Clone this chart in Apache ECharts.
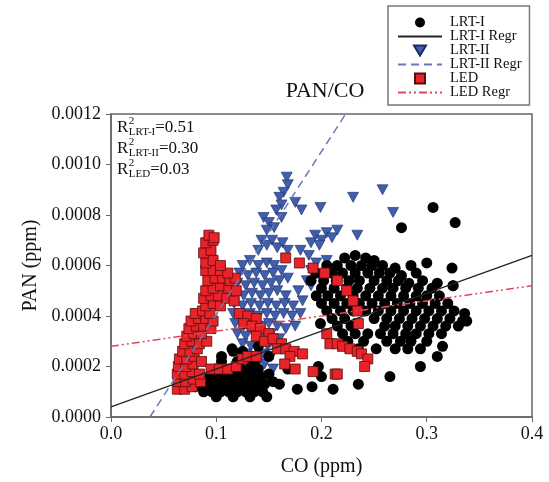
<!DOCTYPE html>
<html style="height: 100%">
<head>
<meta charset="utf-8">
<script src="https://cdn.jsdelivr.net/npm/echarts@6/dist/echarts.min.js"></script>
</head>
<body style="height: 100%; margin: 0; background: #fff">
<div id="container" style="width: 549px; height: 482px"></div>
<script type="text/javascript">
// ------ data (CO ppm, PAN ppm) ------
var seriesNames = ['LRT-I', 'LRT-I Regr', 'LRT-II', 'LRT-II Regr', 'LED', 'LED Regr'];
var xTicks = [0.0, 0.1, 0.2, 0.3, 0.4];
var yTicks = [0.0000, 0.0002, 0.0004, 0.0006, 0.0008, 0.0010, 0.0012];

var lrt1Points = [
  [0.088,0.0001],[0.096,0.0001],[0.104,0.0001],[0.112,0.0001],[0.12,0.0001],[0.128,0.0001],[0.136,0.0001],[0.144,0.0001],
  [0.09,0.00013],[0.098,0.00013],[0.106,0.00013],[0.114,0.00013],[0.122,0.00013],[0.13,0.00013],[0.138,0.00013],[0.146,0.00013],[0.154,0.00014],
  [0.094,0.00016],[0.102,0.00016],[0.11,0.00016],[0.118,0.00016],[0.126,0.00016],[0.134,0.00016],[0.142,0.00016],[0.15,0.00017],
  [0.1,0.00019],[0.108,0.00019],[0.116,0.00019],[0.124,0.00019],[0.132,0.00019],[0.14,0.00019],
  [0.105,0.00022],[0.12,0.00022],[0.128,0.00023],[0.136,0.00022],
  [0.1,0.00008],[0.116,0.00008],[0.132,0.00008],[0.148,0.00008],
  [0.08,0.00012],[0.084,0.00015],[0.105,0.00024],[0.115,0.00027],[0.125,0.00026],[0.14,0.00028],[0.15,0.00024],[0.116,0.00026],
  [0.168,0.00019],[0.177,0.00011],[0.191,0.00012],[0.197,0.0002],[0.2,0.00016],[0.211,0.00011],[0.235,0.00013],
  [0.265,0.00016],[0.294,0.0002],[0.31,0.00024],[0.315,0.00028],[0.199,0.00037],[0.16,0.00013],
  [0.222,0.00063],[0.232,0.00064],[0.242,0.00063],[0.25,0.00062],
  [0.205,0.0006],[0.215,0.0006],[0.228,0.0006],[0.238,0.0006],[0.248,0.0006],[0.258,0.0006],[0.27,0.00059],[0.285,0.0006],
  [0.195,0.00057],[0.21,0.00057],[0.22,0.00057],[0.232,0.00057],[0.244,0.00057],[0.255,0.00057],[0.265,0.00057],[0.276,0.00056],[0.29,0.00057],
  [0.19,0.00054],[0.202,0.00054],[0.214,0.00054],[0.226,0.00054],[0.236,0.00054],[0.25,0.00054],[0.262,0.00054],[0.273,0.00054],[0.283,0.00053],[0.296,0.00054],[0.31,0.00053],
  [0.2,0.00051],[0.212,0.00051],[0.224,0.00051],[0.234,0.00051],[0.246,0.00051],[0.258,0.00051],[0.268,0.00051],[0.28,0.00051],[0.292,0.00051],[0.305,0.00051],[0.325,0.00052],
  [0.195,0.00048],[0.206,0.00048],[0.218,0.00048],[0.23,0.00048],[0.242,0.00048],[0.254,0.00048],[0.266,0.00048],[0.278,0.00048],[0.29,0.00048],[0.3,0.00048],[0.312,0.00048],
  [0.2,0.00045],[0.212,0.00045],[0.224,0.00045],[0.236,0.00045],[0.248,0.00045],[0.26,0.00045],[0.272,0.00045],[0.284,0.00045],[0.296,0.00045],[0.308,0.00045],[0.32,0.00045],
  [0.205,0.00042],[0.218,0.00042],[0.23,0.00042],[0.242,0.00042],[0.254,0.00042],[0.266,0.00042],[0.278,0.00042],[0.29,0.00042],[0.302,0.00042],[0.314,0.00042],[0.326,0.00042],[0.336,0.00041],
  [0.21,0.00039],[0.222,0.00039],[0.25,0.00039],[0.262,0.00039],[0.274,0.00039],[0.286,0.00039],[0.298,0.00039],[0.31,0.00039],[0.322,0.00039],[0.334,0.00038],
  [0.215,0.00036],[0.228,0.00036],[0.26,0.00036],[0.27,0.00036],[0.282,0.00036],[0.294,0.00036],[0.306,0.00036],[0.318,0.00036],[0.33,0.00036],
  [0.22,0.00033],[0.232,0.00033],[0.244,0.00033],[0.256,0.00033],[0.268,0.00033],[0.28,0.00033],[0.29,0.00033],[0.302,0.00033],[0.314,0.00033],
  [0.225,0.0003],[0.24,0.0003],[0.262,0.0003],[0.275,0.0003],[0.285,0.0003],[0.3,0.0003],
  [0.235,0.00027],[0.252,0.00027],[0.27,0.00027],[0.282,0.00027],[0.294,0.00027],
  [0.306,0.00083],[0.327,0.00077],[0.276,0.00075],[0.3,0.00061],[0.324,0.00059],[0.325,0.00052],[0.338,0.00038]
];

var lrt2Points = [
  [0.167,0.00095],[0.168,0.00092],[0.164,0.00089],[0.16,0.00087],[0.162,0.00084],[0.175,0.00085],[0.181,0.00082],
  [0.199,0.00083],[0.23,0.00087],[0.258,0.0009],[0.268,0.00081],[0.157,0.00082],
  [0.145,0.00079],[0.15,0.00077],[0.155,0.00075],[0.148,0.00074],[0.162,0.00079],
  [0.143,0.0007],[0.148,0.00068],[0.153,0.0007],[0.158,0.00067],[0.163,0.00069],[0.168,0.00066],[0.14,0.00066],
  [0.194,0.00072],[0.2,0.0007],[0.205,0.00073],[0.21,0.00071],[0.215,0.00074],[0.198,0.00068],[0.234,0.00072],[0.19,0.00069],
  [0.188,0.00064],[0.195,0.00061],[0.205,0.00062],[0.19,0.00058],[0.18,0.00066],
  [0.186,0.00054],[0.19,0.00052],[0.182,0.00046],[0.178,0.0005],
  [0.125,0.0006],[0.132,0.00062],[0.14,0.0006],[0.148,0.00061],[0.155,0.0006],
  [0.122,0.00057],[0.13,0.00056],[0.138,0.00057],[0.146,0.00056],[0.154,0.00057],[0.162,0.00058],
  [0.12,0.00053],[0.128,0.00052],[0.136,0.00053],[0.144,0.00052],[0.152,0.00053],[0.16,0.00054],[0.168,0.00055],
  [0.118,0.00049],[0.126,0.00048],[0.134,0.00049],[0.142,0.00048],[0.15,0.00049],[0.158,0.0005],[0.166,0.00048],
  [0.117,0.00045],[0.125,0.00044],[0.133,0.00045],[0.141,0.00044],[0.149,0.00045],[0.157,0.00044],[0.165,0.00045],[0.173,0.00044],
  [0.116,0.00041],[0.124,0.0004],[0.132,0.00041],[0.14,0.0004],[0.148,0.00041],[0.156,0.0004],[0.164,0.00041],[0.172,0.0004],[0.18,0.00041],
  [0.118,0.00037],[0.126,0.00036],[0.134,0.00037],[0.142,0.00036],[0.15,0.00037],[0.158,0.00036],[0.166,0.00035],[0.175,0.00036],
  [0.12,0.00033],[0.128,0.00032],[0.136,0.00033],[0.144,0.00032],[0.152,0.00033],[0.16,0.00031],
  [0.125,0.00029],[0.133,0.00028],[0.141,0.00029],[0.149,0.00028],[0.157,0.00027],
  [0.128,0.00025],[0.136,0.00024],[0.144,0.00025],[0.152,0.00024],
  [0.13,0.00021],[0.138,0.0002],[0.146,0.00021],[0.154,0.00019],
  [0.135,0.00017],[0.143,0.00016],[0.15,0.00015],[0.14,0.00013]
];

var ledPoints = [
  [0.063,0.00011],[0.07,0.00011],[0.077,0.00012],[0.064,0.00014],[0.071,0.00014],[0.078,0.00015],[0.085,0.00014],
  [0.063,0.00017],[0.07,0.00017],[0.077,0.00018],[0.084,0.00017],[0.064,0.0002],[0.071,0.0002],[0.078,0.00021],
  [0.065,0.00023],[0.072,0.00023],[0.079,0.00024],[0.086,0.00022],[0.068,0.00026],[0.075,0.00026],[0.082,0.00027],
  [0.07,0.00029],[0.077,0.0003],[0.084,0.00029],[0.091,0.0003],[0.072,0.00032],[0.079,0.00033],[0.086,0.00033],
  [0.074,0.00035],[0.081,0.00036],[0.088,0.00036],[0.095,0.00035],[0.076,0.00038],[0.083,0.00039],[0.09,0.00039],
  [0.097,0.00038],[0.08,0.00041],[0.087,0.00042],[0.094,0.00041],
  [0.09,0.00044],[0.097,0.00045],[0.104,0.00044],[0.088,0.00047],[0.095,0.00048],[0.102,0.00048],[0.11,0.00047],[0.117,0.00046],
  [0.09,0.0005],[0.097,0.00051],[0.104,0.00052],[0.112,0.00051],[0.119,0.0005],[0.092,0.00054],[0.099,0.00055],[0.106,0.00055],
  [0.113,0.00054],[0.118,0.00055],[0.09,0.00058],[0.097,0.00058],[0.104,0.00058],[0.111,0.00057],
  [0.09,0.00061],[0.097,0.00062],[0.104,0.0006],[0.088,0.00065],[0.095,0.00066],[0.09,0.00069],[0.097,0.0007],[0.093,0.00072],[0.098,0.00071],
  [0.095,0.00019],[0.103,0.00019],[0.111,0.00019],[0.119,0.0002],[0.125,0.00023],[0.13,0.00024],[0.138,0.00024],
  [0.122,0.00041],[0.13,0.0004],[0.138,0.00039],[0.126,0.00037],[0.134,0.00036],[0.142,0.00035],[0.15,0.00033],
  [0.138,0.00032],[0.146,0.0003],[0.154,0.00031],[0.162,0.00029],[0.158,0.00027],[0.166,0.00027],[0.174,0.00026],[0.182,0.00025],[0.17,0.00024],
  [0.165,0.00021],[0.175,0.00019],[0.192,0.00018],[0.213,0.00017],
  [0.166,0.00063],[0.179,0.00061],[0.192,0.00059],[0.203,0.00057],[0.215,0.00054],[0.224,0.0005],[0.23,0.00046],[0.234,0.00042],[0.235,0.00037],
  [0.205,0.00033],[0.208,0.00029],[0.215,0.00029],[0.22,0.00028],[0.227,0.00027],[0.234,0.00026],[0.238,0.00025],[0.244,0.00023],[0.241,0.0002],[0.215,0.00017]
];

// regression line end points
var lrt1Regr = [[0.0, 0.00004], [0.4, 0.00064]];
var lrt2Regr = [[0.037, 0.0], [0.223, 0.0012]];
var ledRegr = [[0.0, 0.00028], [0.4, 0.00052]];

var r2Labels = [['LRT-I', '0.51'], ['LRT-II', '0.30'], ['LED', '0.03']];
// ------------------------------------------------------

var serifName = 'Liberation Serif';
var serif = '"Liberation Serif", "DejaVu Serif", serif';
var myChart = echarts.init(document.getElementById('container'));

// text width helper for the R^2 labels (superscript and subscript stacked)
var ctx = document.createElement('canvas').getContext('2d');
function textWidth(str, size) {
  ctx.font = size + 'px "' + serifName + '"';
  return ctx.measureText(str).width;
}

var bigSize = 17, smallSize = 11;
var r2Graphics = [];
r2Labels.forEach(function (d, i) {
  var x0 = 117, yc = 127.5 + i * 21;
  var xs = x0 + textWidth('R', bigSize) + 0.5;
  var xe = xs + textWidth(d[0], smallSize);
  function t(str, x, y, size) {
    return {
      type: 'text', x: x, y: y, z: 100, silent: true,
      style: {
        text: str, fontFamily: serif, fontSize: size, fill: '#111',
        align: 'left', verticalAlign: 'middle',
        textAlign: 'left', textVerticalAlign: 'middle'
      }
    };
  }
  r2Graphics.push(t('R', x0, yc, bigSize));
  r2Graphics.push(t('2', xs, yc - 6.5, smallSize));
  r2Graphics.push(t(d[0], xs, yc + 4.5, smallSize));
  r2Graphics.push(t('=' + d[1], xe, yc, bigSize));
});

var noSymbol = { color: 'rgba(0,0,0,0)' };

var option = {
  animation: false,
  backgroundColor: '#fff',
  title: {
    text: 'PAN/CO',
    left: 320, top: 75, textAlign: 'center',
    textStyle: { fontFamily: serif, fontSize: 22, fontWeight: 'normal', color: '#111' }
  },
  legend: {
    data: seriesNames,
    orient: 'vertical',
    left: 388, top: 6,
    padding: [9, 8, 5, 9],
    itemGap: -1,
    itemWidth: 44,
    itemHeight: 10,
    borderColor: '#777',
    borderWidth: 1.5,
    textStyle: { fontFamily: serif, fontSize: 14.5, color: '#111', padding: [0, 0, 0, 3] }
  },
  grid: {
    left: 111, right: 17, top: 114, bottom: 65,
    show: true, borderColor: '#666', borderWidth: 1.5
  },
  xAxis: {
    type: 'value', min: xTicks[0], max: xTicks[xTicks.length - 1], interval: 0.1,
    name: 'CO (ppm)', nameLocation: 'middle', nameGap: 40,
    nameTextStyle: { fontFamily: serif, fontSize: 20, color: '#111' },
    axisLine: { lineStyle: { color: '#666', width: 1.5 } },
    axisTick: { inside: false, length: 5, lineStyle: { color: '#666' } },
    splitLine: { show: false },
    axisLabel: { fontFamily: serif, fontSize: 18, color: '#111', margin: 8,
      formatter: function (v) { return v.toFixed(1); } }
  },
  yAxis: {
    type: 'value', min: yTicks[0], max: yTicks[yTicks.length - 1], interval: 0.0002,
    name: 'PAN (ppm)', nameLocation: 'middle', nameGap: 70,
    nameTextStyle: { fontFamily: serif, fontSize: 20, color: '#111' },
    axisLine: { lineStyle: { color: '#666', width: 1.5 } },
    axisTick: { inside: false, length: 5, lineStyle: { color: '#666' } },
    splitLine: { show: false },
    axisLabel: { fontFamily: serif, fontSize: 18, color: '#111', margin: 10,
      formatter: function (v) { return v.toFixed(4); } }
  },
  graphic: r2Graphics,
  series: [
    {
      name: 'LRT-II', type: 'scatter', data: lrt2Points, z: 2,
      symbol: 'path://M0,0L12,0L6,10Z', symbolSize: [11, 10],
      itemStyle: { color: '#3f5eae', borderColor: '#1d2b60', borderWidth: 0.6, opacity: 1 }
    },
    {
      name: 'LRT-I', type: 'scatter', data: lrt1Points, z: 3,
      symbol: 'circle', symbolSize: 11,
      itemStyle: { color: '#000', opacity: 1 }
    },
    {
      name: 'LED', type: 'scatter', data: ledPoints, z: 4,
      symbol: 'path://M0,0H10V10H0Z', symbolSize: 10,
      itemStyle: { color: '#e8232a', borderColor: '#5a0e0e', borderWidth: 0.8, opacity: 1 }
    },
    {
      name: 'LRT-I Regr', type: 'line', data: lrt1Regr, z: 5,
      symbol: 'none', itemStyle: noSymbol,
      lineStyle: { color: '#222', width: 1.2, type: 'solid' }
    },
    {
      name: 'LRT-II Regr', type: 'line', data: lrt2Regr, z: 5,
      symbol: 'none', itemStyle: noSymbol,
      lineStyle: { color: '#6a78b8', width: 1.5, type: [8, 5] }
    },
    {
      name: 'LED Regr', type: 'line', data: ledRegr, z: 5,
      symbol: 'none', itemStyle: noSymbol,
      lineStyle: { color: '#e0485a', width: 1.5, type: [8, 3, 2, 3, 2, 3] }
    }
  ]
};
myChart.setOption(option);
</script>
</body>
</html>
